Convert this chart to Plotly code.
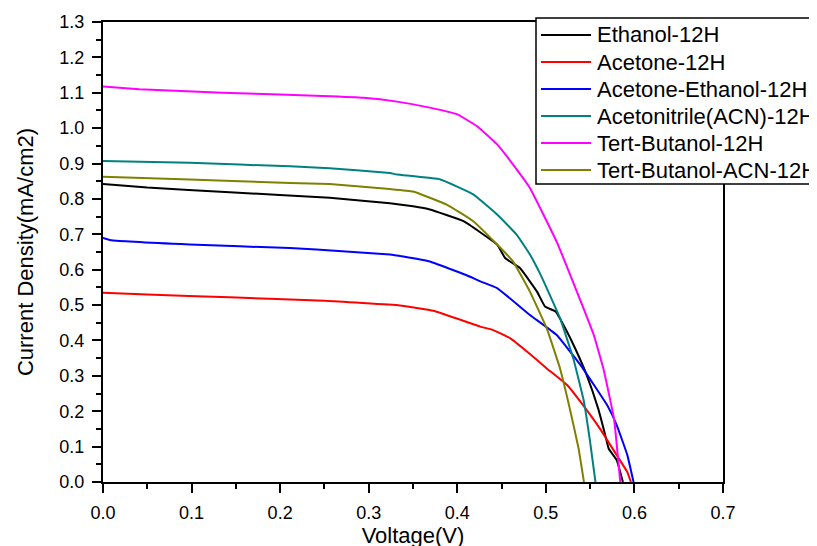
import plotly.graph_objects as go

names = ["Ethanol-12H", "Acetone-12H", "Acetone-Ethanol-12H",
         "Acetonitrile(ACN)-12H", "Tert-Butanol-12H", "Tert-Butanol-ACN-12H"]
colors = ["#000000", "#FF0000", "#0000FF", "#008080", "#FF00FF", "#808000"]

ethanol_v = [0.0, 0.05, 0.143, 0.256, 0.324, 0.35, 0.369, 0.407, 0.445, 0.454, 0.471, 0.49,
             0.499, 0.511, 0.522, 0.533, 0.546, 0.559, 0.567, 0.571, 0.58, 0.587]
ethanol_j = [0.842, 0.832, 0.819, 0.803, 0.788, 0.779, 0.77, 0.737, 0.671, 0.633, 0.604, 0.538,
             0.496, 0.482, 0.434, 0.378, 0.303, 0.208, 0.133, 0.094, 0.062, 0.0]

acetone_v = [0.0, 0.05, 0.143, 0.25, 0.335, 0.373, 0.41, 0.426, 0.44, 0.46, 0.479, 0.501,
             0.524, 0.539, 0.561, 0.58, 0.592, 0.596]
acetone_j = [0.535, 0.53, 0.522, 0.512, 0.499, 0.484, 0.453, 0.439, 0.43, 0.406, 0.368, 0.321,
             0.274, 0.227, 0.151, 0.076, 0.028, 0.0]

acet_eth_v = [0.0, 0.01, 0.098, 0.211, 0.241, 0.324, 0.339, 0.369, 0.41, 0.426, 0.445, 0.482,
              0.512, 0.539, 0.569, 0.58, 0.592, 0.599]
acet_eth_j = [0.69, 0.683, 0.671, 0.661, 0.657, 0.643, 0.637, 0.623, 0.585, 0.567, 0.548, 0.472,
              0.416, 0.331, 0.218, 0.161, 0.076, 0.0]

acn_v = [0.0, 0.098, 0.211, 0.256, 0.324, 0.332, 0.381, 0.418, 0.445, 0.467, 0.482, 0.494,
         0.516, 0.531, 0.543, 0.55, 0.556]
acn_j = [0.907, 0.902, 0.892, 0.887, 0.873, 0.869, 0.855, 0.813, 0.756, 0.699, 0.643, 0.586,
         0.463, 0.349, 0.227, 0.113, 0.0]

tbut_v = [0.0, 0.041, 0.135, 0.248, 0.294, 0.332, 0.369, 0.4, 0.422, 0.445, 0.463, 0.482,
          0.512, 0.535, 0.554, 0.565, 0.577, 0.584]
tbut_j = [1.118, 1.11, 1.1, 1.091, 1.086, 1.075, 1.058, 1.039, 1.006, 0.954, 0.897, 0.831,
          0.68, 0.538, 0.416, 0.32, 0.178, 0.0]

tbut_acn_v = [0.0, 0.098, 0.211, 0.256, 0.324, 0.35, 0.388, 0.418, 0.445, 0.463, 0.482, 0.501,
              0.516, 0.527, 0.537, 0.543]
tbut_acn_j = [0.863, 0.855, 0.845, 0.842, 0.828, 0.821, 0.784, 0.737, 0.671, 0.623, 0.538, 0.434,
              0.321, 0.208, 0.094, 0.0]

series_v = [ethanol_v, acetone_v, acet_eth_v, acn_v, tbut_v, tbut_acn_v]
series_j = [ethanol_j, acetone_j, acet_eth_j, acn_j, tbut_j, tbut_acn_j]

x_ticks = [0.0, 0.1, 0.2, 0.3, 0.4, 0.5, 0.6, 0.7]
y_ticks = [0.0, 0.1, 0.2, 0.3, 0.4, 0.5, 0.6, 0.7, 0.8, 0.9, 1.0, 1.1, 1.2, 1.3]

font = "Arial, Liberation Sans, sans-serif"

# layout (figure pixel coords; page adds an 8px body offset)
W, H = 817, 546
ML, MR, MT, MB = 95, 102, 14, 72
PW, PH = W - ML - MR, H - MT - MB


def px_x(x):
    return (x - ML) / PW


def px_y(y):
    return (H - MB - y) / PH


fig = go.Figure()
for n, c, v, j in zip(names, colors, series_v, series_j):
    fig.add_trace(go.Scatter(x=v, y=j, mode="lines", name=n, showlegend=False,
                             line=dict(color=c, width=2, shape="spline", smoothing=0.3)))

axis_common = dict(showline=True, linecolor="black", linewidth=2, mirror=True,
                   ticks="outside", ticklen=9, tickwidth=2, tickcolor="black",
                   showgrid=False, zeroline=False, ticklabelstandoff=4,
                   tickfont=dict(family=font, size=18, color="black"),
                   minor=dict(ticks="outside", ticklen=5, tickwidth=2, tickcolor="black", dtick=0.05))

fig.update_xaxes(range=[0, 0.7], tickvals=x_ticks, ticktext=[f"{t:.1f}" for t in x_ticks],
                 title=dict(text="Voltage(V)", font=dict(family=font, size=22, color="black"), standoff=5),
                 **axis_common)
fig.update_yaxes(range=[0, 1.3], tickvals=y_ticks, ticktext=[f"{t:.1f}" for t in y_ticks],
                 title=dict(text="Current Density(mA/cm2)", font=dict(family=font, size=22, color="black"), standoff=20),
                 **axis_common)

# custom legend (box, line samples, labels)
LEG_L, LEG_T, LEG_B, LEG_R = 528, 10, 176, 840
ROW0, ROW_STEP = 27, 27
SAMPLE_L, SAMPLE_R, TEXT_L = 533, 583, 587

shapes = [dict(type="rect", xref="paper", yref="paper",
               x0=px_x(LEG_L), x1=px_x(LEG_R), y0=px_y(LEG_B), y1=px_y(LEG_T),
               line=dict(color="black", width=1.5), fillcolor="white", layer="above")]
annotations = []
for i, (n, c) in enumerate(zip(names, colors)):
    yy = px_y(ROW0 + i * ROW_STEP)
    shapes.append(dict(type="line", xref="paper", yref="paper",
                       x0=px_x(SAMPLE_L), x1=px_x(SAMPLE_R), y0=yy, y1=yy,
                       line=dict(color=c, width=2), layer="above"))
    annotations.append(dict(xref="paper", yref="paper", x=px_x(TEXT_L), y=yy,
                            xanchor="left", yanchor="middle", showarrow=False, text=n,
                            font=dict(family=font, size=22, color="black")))

fig.update_layout(
    width=W, height=H,
    margin=dict(l=ML, r=MR, t=MT, b=MB, autoexpand=False),
    plot_bgcolor="white", paper_bgcolor="white",
    shapes=shapes, annotations=annotations,
    showlegend=False,
)

fig.write_html("out.html")
